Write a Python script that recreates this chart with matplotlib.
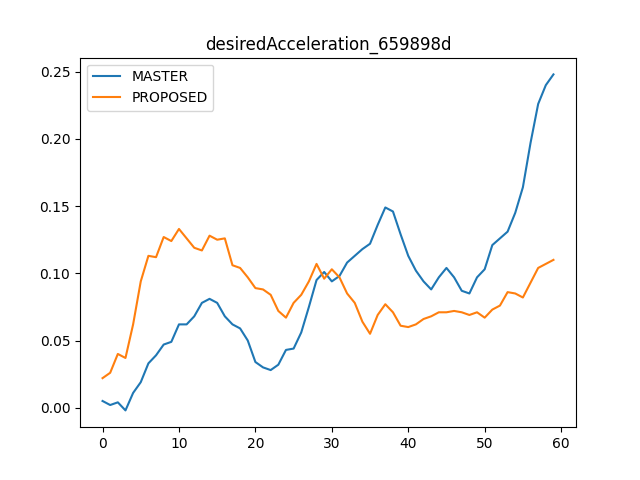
import numpy as np
import matplotlib
matplotlib.use("Agg")
import matplotlib.pyplot as plt

master = [0.005, 0.002, 0.004, -0.002, 0.011, 0.019, 0.033, 0.039, 0.047, 0.049,
          0.062, 0.062, 0.068, 0.078, 0.081, 0.078, 0.068, 0.062, 0.059, 0.050,
          0.034, 0.030, 0.028, 0.032, 0.043, 0.044, 0.056, 0.075, 0.095, 0.101,
          0.094, 0.098, 0.108, 0.113, 0.118, 0.122, 0.136, 0.149, 0.146, 0.129,
          0.113, 0.102, 0.094, 0.088, 0.097, 0.104, 0.097, 0.087, 0.085, 0.097,
          0.103, 0.121, 0.126, 0.131, 0.145, 0.164, 0.197, 0.226, 0.240, 0.248]
proposed = [0.022, 0.026, 0.040, 0.037, 0.062, 0.094, 0.113, 0.112, 0.127, 0.124,
            0.133, 0.126, 0.119, 0.117, 0.128, 0.125, 0.126, 0.106, 0.104, 0.097,
            0.089, 0.088, 0.084, 0.072, 0.067, 0.078, 0.084, 0.094, 0.107, 0.096,
            0.103, 0.097, 0.085, 0.078, 0.064, 0.055, 0.069, 0.077, 0.071, 0.061,
            0.060, 0.062, 0.066, 0.068, 0.071, 0.071, 0.072, 0.071, 0.069, 0.071,
            0.067, 0.073, 0.076, 0.086, 0.085, 0.082, 0.093, 0.104, 0.107, 0.110]

fig = plt.figure(figsize=(6.4, 4.8), dpi=100)
plt.plot(master, label="MASTER")
plt.plot(proposed, label="PROPOSED")
plt.title("desiredAcceleration_659898d")
plt.legend(loc="upper left")
plt.savefig("out.png")
